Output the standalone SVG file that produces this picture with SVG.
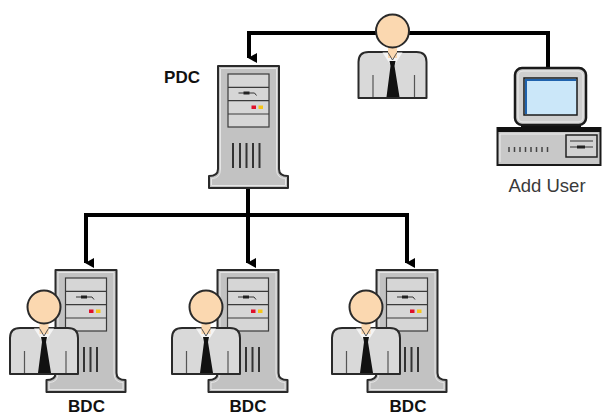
<svg xmlns="http://www.w3.org/2000/svg" xmlns:xlink="http://www.w3.org/1999/xlink" width="602" height="417" viewBox="0 0 602 417">
  <style>
    .wire { fill: none; stroke: #000; stroke-width: 4; }
    .label { font-family: "Liberation Sans", Arial, sans-serif; font-weight: bold; font-size: 17px; fill: #111; text-anchor: middle; }
    .caption { font-family: "Liberation Sans", Arial, sans-serif; font-size: 18.5px; fill: #3a3a3a; text-anchor: middle; }
    .outline { stroke: #2a2a2a; stroke-width: 2; stroke-linejoin: round; }
    .thin { stroke: #3a3a3a; stroke-width: 1.2; }
  </style>
  <defs>
    <marker id="arrow" markerUnits="userSpaceOnUse" markerWidth="12" markerHeight="10" refX="5" refY="8" orient="auto-start-reverse" viewBox="0 0 10 10">
      <path d="M0 0 L10 0 L5 9 Z" fill="#000"/>
    </marker>
    <!-- server tower, origin at top centre -->
    <g id="tower">
      <path class="outline" d="M-30.5 0 H30.5 V103 Q30.5 110 39.5 110 V122 H-39.5 V110 Q-30.5 110 -30.5 103 Z" fill="#c2c2c2"/>
      <path d="M-28 2.5 H28 V103 Q28 112.5 37 112.5 V119.5 H-37 V112.5 Q-28 112.5 -28 103 Z" fill="none" stroke="#e6e6e6" stroke-width="1"/>
      <rect class="thin" x="-20.5" y="8" width="41" height="53" fill="#d6d6d6"/>
      <path class="thin" d="M-20.5 21.3 H20.5 M-20.5 34.7 H20.5 M-20.5 48 H20.5" fill="none"/>
      <path d="M-10 27 H6 L8 29.5" fill="none" stroke="#333" stroke-width="1"/>
      <rect x="-5" y="25.5" width="6" height="3" fill="#222"/>
      <rect x="3" y="39.5" width="4.5" height="3.5" fill="#e0102a"/>
      <rect x="10" y="39.5" width="4.5" height="3.5" fill="#f5c518"/>
      <path d="M-15.5 77 V102 M-8.5 77 V102 M-2 77 V102 M4.5 77 V102 M11 77 V102" stroke="#333" stroke-width="2"/>
    </g>
    <!-- user figure, origin at centre of head -->
    <g id="person">
      <path class="outline" d="M-34 67 V31 Q-34 21 -24 21 H24 Q34 21 34 31 V67 Z" fill="#d9d9d9"/>
      <path d="M-19.5 44 V66 M22 44 V66" stroke="#555" stroke-width="1.2"/>
      <path d="M-10 21.5 L-2 34 L0 31 L2 34 L10 21.5 Z" fill="#f4f4f4"/>
      <rect x="-4.5" y="13" width="9" height="14" fill="#fbd8b0"/>
      <path d="M-4.5 21.5 L0 29 L4.5 21.5" fill="none" stroke="#555" stroke-width="1"/>
      <path d="M-3 30 H3 L2 35 H-2 Z M-2 35 H2 L7 66 H-6 Z" fill="#111"/>
      <circle class="outline" cx="0" cy="0" r="16.5" fill="#fbd8b0"/>
    </g>
  </defs>

  <!-- links -->
  <g id="connectors">
    <path class="wire" d="M548 68 V33 H249 V58" marker-end="url(#arrow)"/>
    <path class="wire" d="M248 188 V215"/>
    <path class="wire" d="M86 215 H407"/>
    <path class="wire" d="M86 213 V263" marker-end="url(#arrow)"/>
    <path class="wire" d="M248 213 V263" marker-end="url(#arrow)"/>
    <path class="wire" d="M407 213 V263" marker-end="url(#arrow)"/>
  </g>

  <g id="pdc">
    <use xlink:href="#tower" href="#tower" transform="translate(248.5 66)"/>
    <text class="label" x="182" y="83">PDC</text>
  </g>

  <g id="admin">
    <use xlink:href="#person" href="#person" transform="translate(392.5 31)"/>
  </g>

  <g id="workstation">
    <rect x="521" y="122" width="60" height="7" fill="#111"/>
    <rect x="515" y="68" width="71" height="57" rx="7" fill="#cfcfcf" stroke="#1a1a1a" stroke-width="2.5"/>
    <rect x="518" y="71" width="65" height="51" rx="5" fill="none" stroke="#ececec" stroke-width="1"/>
    <rect x="524" y="78" width="53" height="37" fill="#cbe7f9" stroke="#1a1a1a" stroke-width="1.5"/>
    <path d="M526 114 V80 H576" fill="none" stroke="#1f62ad" stroke-width="2"/>
    <rect x="497.5" y="128" width="103" height="37" fill="#c8c8c8" stroke="#1a1a1a" stroke-width="2"/>
    <rect x="497.5" y="127" width="103" height="5" fill="#111"/>
    <path d="M500 162 V134 H598" fill="none" stroke="#ececec" stroke-width="1"/>
    <rect x="566" y="135" width="31" height="22" fill="#d2d2d2" stroke="#222" stroke-width="1.5"/>
    <path d="M570 141 H593 M570 147 H593" stroke="#333" stroke-width="1.2"/>
    <rect x="577" y="145.5" width="8" height="3" fill="#222"/>
    <path d="M509 147 V152 M514.5 147 V152 M520 147 V152 M525.5 147 V152 M531 147 V152 M536.5 147 V152 M542 147 V152 M547.5 147 V152" stroke="#444" stroke-width="1.5"/>
    <text class="caption" x="547" y="192">Add User</text>
  </g>

  <g id="bdc1">
    <use xlink:href="#tower" href="#tower" transform="translate(86 270)"/>
    <use xlink:href="#person" href="#person" transform="translate(44 307)"/>
    <text class="label" x="86.5" y="412">BDC</text>
  </g>

  <g id="bdc2">
    <use xlink:href="#tower" href="#tower" transform="translate(248 270)"/>
    <use xlink:href="#person" href="#person" transform="translate(206 307)"/>
    <text class="label" x="248" y="412">BDC</text>
  </g>

  <g id="bdc3">
    <use xlink:href="#tower" href="#tower" transform="translate(407 270)"/>
    <use xlink:href="#person" href="#person" transform="translate(366 307)"/>
    <text class="label" x="408" y="412">BDC</text>
  </g>
</svg>
